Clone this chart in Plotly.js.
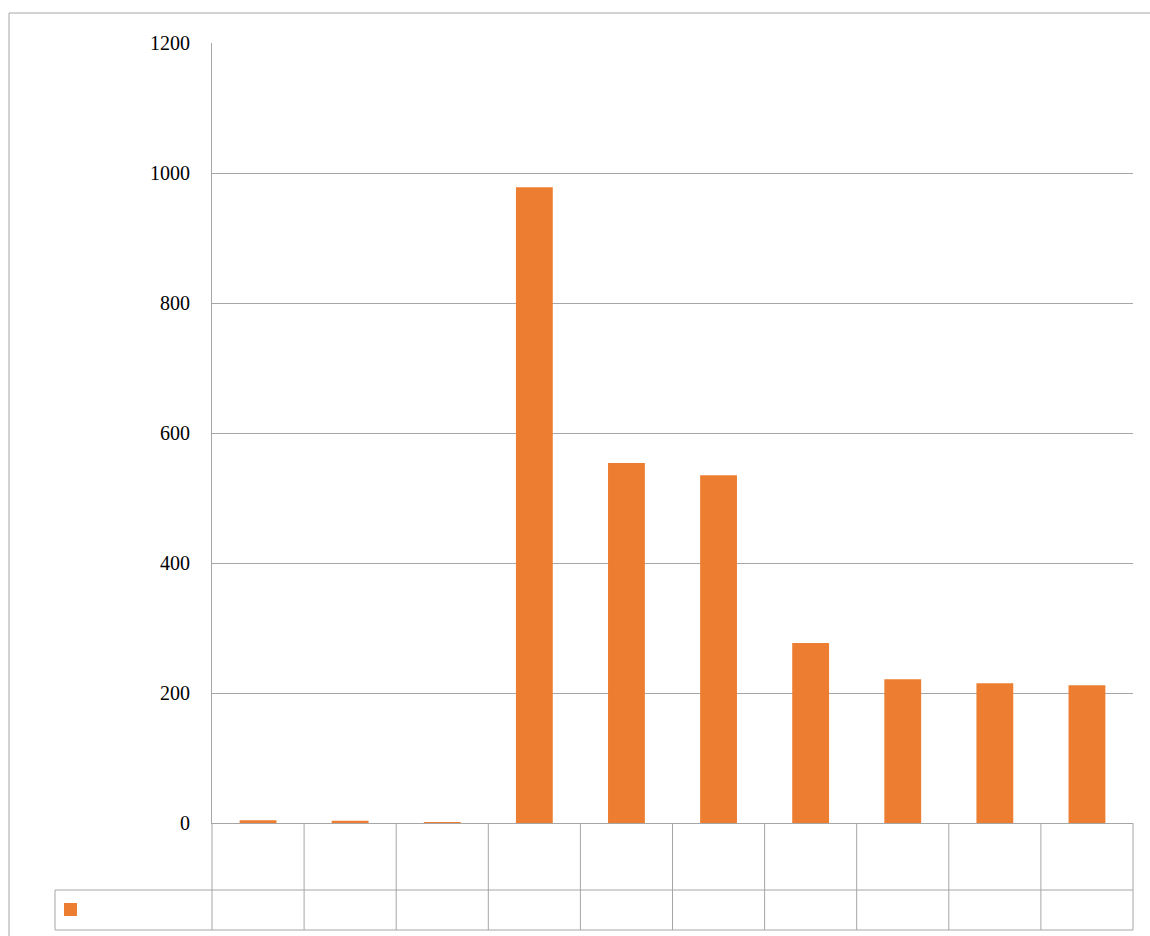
<!DOCTYPE html>
<html>
<head>
<meta charset="utf-8">
<script src="https://cdn.plot.ly/plotly-3.0.1.min.js"></script>
<style>html,body{margin:0;padding:0;background:#fff;}</style>
</head>
<body>
<div id="chart" style="width:1150px;height:936px;"></div>
<script>
const categories = ["Dubrovnik", "Zagreb", "Split", "Plitvička jezera", "Opatija", "Rijeka", "Trogir", "Hvar", "Zadar", "Seget"];
const categoryLabels = ["Dubrov<br>nik", "Zagreb", "Split", "Plitvičk<br>a jezera", "Opatija", "Rijeka", "Trogir", "Hvar", "Zadar", "Seget"];
const values = [4.088, 3.466, 1.258, 978, 554, 535, 277, 221, 215, 212];
const valueLabels = ["4,088", "3,466", "1,258", "978", "554", "535", "277", "221", "215", "212"];
const seriesName = "NOĆENJA";
const yTicks = [0, 200, 400, 600, 800, 1000, 1200];

const W = 1150, H = 936;
const L = 212, R = 1133, T = 43, B = 823;
const px = p => p / W;
const py = p => (H - p) / H;
const gridCol = "#a6a6a6";
const orange = "#ED7D31";
const font = "Liberation Serif";
const n = categories.length;
const xDom = [px(L), px(R)];
const colX = i => xDom[0] + (xDom[1] - xDom[0]) * i / n;

const shapes = [];
const line = (x0, y0, x1, y1) => shapes.push({type: "line", xref: "paper", yref: "paper", x0, y0, x1, y1, line: {color: gridCol, width: 1}, layer: "above"});
// outer chart border
shapes.push({type: "rect", xref: "paper", yref: "paper", x0: px(9), y0: py(13), x1: px(1170), y1: py(960), line: {color: gridCol, width: 1}, fillcolor: "rgba(0,0,0,0)", layer: "below"});
// table horizontal lines
line(px(55), py(890), xDom[1], py(890));
line(px(55), py(930), xDom[1], py(930));
// table vertical lines (category boundaries)
for (let i = 0; i <= n; i++) line(colX(i), py(B), colX(i), py(930));
line(px(55), py(890), px(55), py(930));
// legend key
shapes.push({type: "rect", xref: "paper", yref: "paper", x0: px(64), x1: px(77), y0: py(903), y1: py(916), fillcolor: orange, line: {width: 0}});

// split category labels into two-line and one-line groups (drawn as tick labels of overlay axes)
const idx = categories.map((_, i) => i);
const twoLine = idx.filter(i => categoryLabels[i].includes("<br>"));
const oneLine = idx.filter(i => !categoryLabels[i].includes("<br>"));

const tickFont = {family: font, size: 24, color: "#000"};
const overlayAxis = (vals, texts, standoff) => ({
  overlaying: "x", anchor: "y", side: "bottom", type: "linear", range: [-0.5, n - 0.5],
  tickmode: "array", tickvals: vals, ticktext: texts, ticks: "", ticklabelstandoff: standoff,
  showgrid: false, zeroline: false, showline: false, automargin: false, fixedrange: true, tickfont: tickFont
});

const data = [{
  type: "bar",
  x: categories,
  y: values,
  name: seriesName,
  marker: {color: orange},
  hoverinfo: "x+y"
}];

const layout = {
  width: W, height: H,
  font: {family: font, color: "#000"},
  margin: {l: 0, r: 0, t: 0, b: 0, pad: 0},
  paper_bgcolor: "#fff", plot_bgcolor: "#fff",
  showlegend: false,
  bargap: 0.6,
  xaxis: {domain: xDom, type: "category", range: [-0.5, n - 0.5], showticklabels: false, showgrid: false, zeroline: false, showline: true, linecolor: gridCol, linewidth: 1, ticks: "", fixedrange: true, automargin: false},
  xaxis2: overlayAxis(twoLine, twoLine.map(i => categoryLabels[i]), 10),
  xaxis3: overlayAxis(oneLine, oneLine.map(i => categoryLabels[i]), 27),
  xaxis4: overlayAxis(idx, valueLabels, 80),
  yaxis: {domain: [py(B), py(T)], range: [0, 1200], tickvals: yTicks, ticktext: yTicks.map(String), showgrid: true, gridcolor: gridCol, gridwidth: 1, zeroline: false, showline: true, linecolor: gridCol, linewidth: 1, ticks: "", ticklabelstandoff: 17, tickfont: {family: font, size: 20, color: "#000"}, fixedrange: true, automargin: false},
  yaxis2: {domain: [0, py(B)], anchor: "free", position: xDom[0], range: [H, B], tickmode: "array", tickvals: [910.5], ticktext: [seriesName], ticks: "", ticklabelstandoff: 9, showgrid: false, zeroline: false, showline: false, automargin: false, fixedrange: true, tickfont: tickFont},
  shapes: shapes
};

Plotly.newPlot("chart", data, layout, {displayModeBar: false});
</script>
</body>
</html>
